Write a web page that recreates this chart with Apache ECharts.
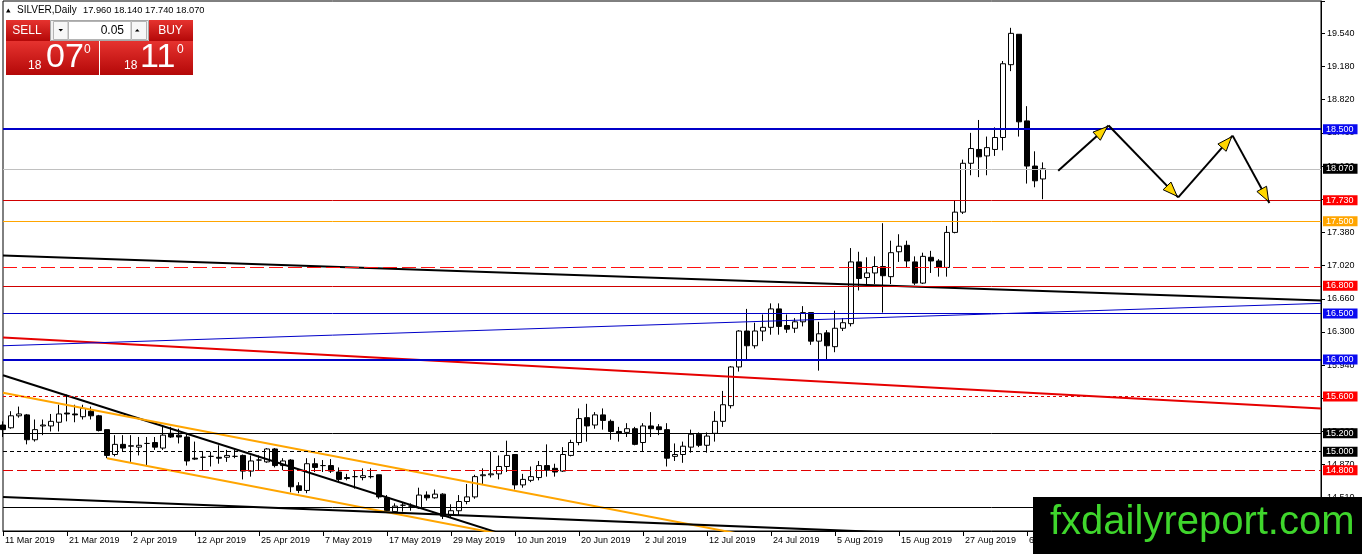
<!DOCTYPE html>
<html><head><meta charset="utf-8">
<script src="https://cdn.jsdelivr.net/npm/echarts@6/dist/echarts.min.js"></script>
<style>html,body{margin:0;padding:0;background:#fff;}#c{width:1362px;height:554px;}</style>
</head><body><div id="c"></div>
<script>
// ---------- DATA ----------
const dates = [
'11 Mar 2019','12 Mar 2019','13 Mar 2019','14 Mar 2019','15 Mar 2019','18 Mar 2019','19 Mar 2019','20 Mar 2019','21 Mar 2019','22 Mar 2019','25 Mar 2019','26 Mar 2019','27 Mar 2019','28 Mar 2019','29 Mar 2019',
'1 Apr 2019','2 Apr 2019','3 Apr 2019','4 Apr 2019','5 Apr 2019','8 Apr 2019','9 Apr 2019','10 Apr 2019','11 Apr 2019','12 Apr 2019','15 Apr 2019','16 Apr 2019','17 Apr 2019','18 Apr 2019','22 Apr 2019','23 Apr 2019','24 Apr 2019','25 Apr 2019','26 Apr 2019','29 Apr 2019','30 Apr 2019',
'1 May 2019','2 May 2019','3 May 2019','6 May 2019','7 May 2019','8 May 2019','9 May 2019','10 May 2019','13 May 2019','14 May 2019','15 May 2019','16 May 2019','17 May 2019','20 May 2019','21 May 2019','22 May 2019','23 May 2019','24 May 2019','27 May 2019','28 May 2019','29 May 2019','30 May 2019','31 May 2019',
'3 Jun 2019','4 Jun 2019','5 Jun 2019','6 Jun 2019','7 Jun 2019','10 Jun 2019','11 Jun 2019','12 Jun 2019','13 Jun 2019','14 Jun 2019','17 Jun 2019','18 Jun 2019','19 Jun 2019','20 Jun 2019','21 Jun 2019','24 Jun 2019','25 Jun 2019','26 Jun 2019','27 Jun 2019','28 Jun 2019',
'1 Jul 2019','2 Jul 2019','3 Jul 2019','4 Jul 2019','5 Jul 2019','8 Jul 2019','9 Jul 2019','10 Jul 2019','11 Jul 2019','12 Jul 2019','15 Jul 2019','16 Jul 2019','17 Jul 2019','18 Jul 2019','19 Jul 2019','22 Jul 2019','23 Jul 2019','24 Jul 2019','25 Jul 2019','26 Jul 2019','29 Jul 2019','30 Jul 2019','31 Jul 2019',
'1 Aug 2019','2 Aug 2019','5 Aug 2019','6 Aug 2019','7 Aug 2019','8 Aug 2019','9 Aug 2019','12 Aug 2019','13 Aug 2019','14 Aug 2019','15 Aug 2019','16 Aug 2019','19 Aug 2019','20 Aug 2019','21 Aug 2019','22 Aug 2019','23 Aug 2019','26 Aug 2019','27 Aug 2019','28 Aug 2019','29 Aug 2019','30 Aug 2019',
'2 Sep 2019','3 Sep 2019','4 Sep 2019','5 Sep 2019','6 Sep 2019','9 Sep 2019','10 Sep 2019'
];
const opens = [
15.29,15.26,15.39,15.40,15.13,15.28,15.28,15.32,15.42,15.41,
15.38,15.44,15.39,15.24,14.97,15.08,15.06,15.05,15.09,15.10,
15.04,15.20,15.18,15.16,14.93,14.94,14.95,14.94,14.94,14.95,
14.96,14.79,14.91,14.89,15.03,14.85,14.91,14.63,14.58,14.87,
14.85,14.85,14.78,14.72,14.73,14.72,14.73,14.75,14.50,14.35,
14.42,14.41,14.39,14.53,14.50,14.54,14.31,14.36,14.46,14.51,
14.74,14.75,14.76,14.84,14.97,14.64,14.69,14.72,14.85,14.82,
14.79,14.96,15.10,15.37,15.29,15.40,15.33,15.22,15.21,15.25,
15.10,15.28,15.27,15.24,14.95,14.97,15.05,15.19,15.07,15.20,
15.33,15.50,15.92,16.31,16.15,16.31,16.35,16.55,16.37,16.34,
16.41,16.51,16.20,16.29,16.14,16.34,16.39,17.06,16.89,16.94,
17.01,16.90,17.17,17.24,17.06,16.83,17.11,17.07,17.00,17.38,
17.60,18.13,18.28,18.21,18.28,18.41,19.20,19.53,18.59,18.10,
17.96];
const highs = [
15.33,15.44,15.49,15.41,15.35,15.35,15.41,15.51,15.62,15.51,
15.51,15.49,15.40,15.24,15.18,15.18,15.18,15.16,15.16,15.16,
15.27,15.27,15.25,15.20,15.11,15.00,15.00,15.07,15.02,15.02,
14.97,14.96,14.96,15.04,15.04,14.93,14.92,14.67,14.93,14.93,
14.91,14.92,14.83,14.76,14.79,14.82,14.82,14.75,14.53,14.44,
14.45,14.44,14.61,14.57,14.59,14.55,14.43,14.53,14.65,14.75,
14.82,15.00,14.96,15.12,14.97,14.76,14.84,14.90,15.08,14.87,
15.05,15.13,15.47,15.52,15.43,15.47,15.35,15.27,15.31,15.27,
15.31,15.43,15.30,15.31,15.09,15.11,15.24,15.21,15.21,15.44,
15.66,15.93,16.32,16.55,16.40,16.49,16.61,16.61,16.49,16.45,
16.58,16.51,16.41,16.32,16.53,16.45,17.21,17.17,17.11,17.12,
17.48,17.29,17.36,17.29,17.12,17.16,17.18,17.09,17.45,17.73,
18.17,18.46,18.60,18.42,18.52,19.24,19.60,19.53,18.75,18.26,
18.14];
const lows = [
15.16,15.25,15.37,15.08,15.11,15.18,15.22,15.22,15.33,15.32,
15.35,15.35,15.22,14.93,14.95,15.00,14.89,14.96,14.85,15.02,
15.02,15.15,15.09,14.85,14.91,14.80,14.84,14.87,14.89,14.93,
14.70,14.73,14.80,14.88,14.83,14.80,14.56,14.55,14.55,14.78,
14.78,14.77,14.68,14.69,14.60,14.69,14.71,14.49,14.35,14.33,
14.35,14.36,14.38,14.47,14.49,14.27,14.29,14.31,14.43,14.49,
14.65,14.72,14.70,14.78,14.59,14.61,14.67,14.69,14.73,14.73,
14.78,14.95,15.07,15.11,15.25,15.24,15.13,15.11,15.16,15.07,
15.00,15.16,15.18,14.84,14.90,14.88,14.99,15.05,14.99,15.11,
15.27,15.47,15.87,16.00,16.12,16.20,16.27,16.27,16.29,16.29,
16.36,16.16,15.88,16.00,16.08,16.31,16.36,16.75,16.82,16.82,
16.51,16.82,17.06,17.00,16.81,16.82,16.94,16.90,16.90,17.37,
17.58,18.00,17.98,18.00,18.21,18.27,19.13,18.42,17.91,17.87,
17.74];
const closes = [
15.24,15.39,15.41,15.13,15.24,15.29,15.33,15.41,15.41,15.40,
15.47,15.39,15.23,14.96,15.08,15.04,15.065,15.07,15.09,15.05,
15.18,15.16,15.16,14.90,14.92,14.94,14.95,14.93,14.96,14.95,
14.79,14.90,14.91,15.03,14.85,14.90,14.62,14.58,14.87,14.83,
14.85,14.79,14.70,14.71,14.73,14.74,14.73,14.51,14.36,14.41,
14.42,14.41,14.53,14.50,14.54,14.30,14.36,14.46,14.51,14.73,
14.75,14.76,14.84,14.96,14.64,14.70,14.73,14.85,14.80,14.78,
14.97,15.10,15.36,15.28,15.40,15.34,15.22,15.20,15.25,15.08,
15.28,15.25,15.24,14.93,14.97,15.06,15.19,15.07,15.17,15.33,
15.51,15.92,16.31,16.15,16.31,16.35,16.55,16.36,16.33,16.41,
16.51,16.20,16.28,16.15,16.34,16.40,17.06,16.88,16.94,17.01,
16.91,17.16,17.23,17.07,16.83,17.12,17.07,17.00,17.38,17.60,
18.13,18.29,18.20,18.30,18.41,19.21,19.54,18.58,18.10,17.94,
18.07];
const yTickLabels = ['','14.510','14.870','15.220','15.580','15.940','16.300','16.660','17.020','17.380','17.740','18.100','18.460','18.820','19.180','19.540'];
const levelPrices = [18.5, 18.07, 17.73, 17.5, 17.0, 16.8, 16.5, 16.0, 15.6, 15.2, 15.0, 14.8, 14.4];
const levelLabels = ['18.500','18.070','17.730','17.500','','16.800','16.500','16.000','15.600','15.200','15.000','14.800',''];
// trend lines: [barIndex, price] pairs
const longBlackLine  = [[0, 17.13], [164.75, 16.64]];
const longRedLine    = [[0, 16.24], [164.75, 15.47]];
const risingBlueLine = [[0, 16.15], [164.75, 16.61]];
const steepBlackLine = [[0, 15.83], [63, 14.09]];
const orangeUpper    = [[0, 15.64], [92, 14.11]];
const orangeLower    = [[13, 14.93], [62, 14.11]];
const bottomBlackLine= [[0, 14.51], [112, 14.12]];
// projected path arrows: [x1, p1, x2, p2]
const arrowSegments = [
  [131.9, 18.05, 138.2, 18.54],
  [138.2, 18.54, 146.9, 17.76],
  [146.9, 17.76, 153.7, 18.43],
  [153.7, 18.43, 158.3, 17.70]
];
const header = {symbol: 'SILVER,Daily', ohlc: '17.960 18.140 17.740 18.070'};
const quote = {lot: '0.05', bidBig: '18', bidMain: '07', bidSup: '0', askBig: '18', askMain: '11', askSup: '0'};

// ---------- STYLES ----------
const FONT = '"Liberation Sans", Arial, sans-serif';
const yMin = 14.14, yStep = 0.36, yMax = 19.891;
const xMax = 164.75;
const levelStyles = [
  {color:'#0000C8', width:2, type:'solid', bg:'#0A0AF0'},
  {color:'#C0C0C0', width:1, type:'solid', bg:'#000000'},
  {color:'#D00000', width:1, type:'solid', bg:'#FF0000'},
  {color:'#FFA500', width:1, type:'solid', bg:'#FFA500'},
  {color:'#FF1010', width:1, type:[14,5]},
  {color:'#D00000', width:1, type:'solid', bg:'#FF0000'},
  {color:'#0000C8', width:1, type:'solid', bg:'#0A0AF0'},
  {color:'#0000C8', width:2, type:'solid', bg:'#0A0AF0'},
  {color:'#E00000', width:1, type:[3,3], bg:'#FF0000'},
  {color:'#000000', width:1, type:'solid', bg:'#000000'},
  {color:'#000000', width:1, type:[4,3], bg:'#000000'},
  {color:'#E00000', width:1, type:[10,4], bg:'#FF0000'},
  {color:'#000000', width:1, type:'solid'}
];

const candleData = opens.map((o, i) => [i, o, closes[i], lows[i], highs[i]]);

function trend(data, color, width) {
  return {type:'line', data: data, showSymbol:false, symbol:'none', silent:true, animation:false,
    clip:true, z:3, lineStyle:{color:color, width:width}};
}

const red = {type:'linear', x:0, y:0, x2:0, y2:1, colorStops:[{offset:0,color:'#E6332F'},{offset:1,color:'#B40808'}]};
function txt(x, y, t, size, color, align) {
  return {type:'text', z:100, style:{x:x, y:y, text:t, fill:color, fontSize:size, fontFamily:FONT, align:align||'left', verticalAlign:'middle'}};
}

const chart = echarts.init(document.getElementById('c'), null, {renderer:'canvas'});
chart.setOption({
  animation:false,
  backgroundColor:'#fff',
  grid:{left:3, right:41, top:1, bottom:23, show:true, borderColor:'#000', borderWidth:1, containLabel:false, outerBoundsMode:'none'},
  xAxis:{type:'value', min:0, max:xMax, interval:8, position:'bottom',
    axisLine:{show:true, onZero:false, lineStyle:{color:'#000', width:1}},
    axisTick:{show:true, inside:false, length:5, lineStyle:{color:'#000'}},
    splitLine:{show:false},
    axisLabel:{show:true, fontSize:9, fontFamily:FONT, color:'#000', align:'left', margin:5, padding:[0,0,0,2],
      showMinLabel:true, showMaxLabel:true,
      formatter:function(v){ return (Number.isInteger(v) && v % 8 === 0) ? (dates[v] || '') : ''; }}
  },
  yAxis:{type:'value', position:'right', min:yMin, max:yMax, interval:yStep, scale:true,
    axisLine:{show:true, onZero:false, lineStyle:{color:'#000', width:1}},
    axisTick:{show:true, inside:false, length:4, lineStyle:{color:'#000'}},
    splitLine:{show:false},
    axisLabel:{fontSize:9, fontFamily:FONT, color:'#000', margin:6,
      formatter:function(v){ const k = Math.round((v - yMin)/yStep); return Math.abs(yMin + k*yStep - v) < 1e-6 ? (yTickLabels[k] || '') : ''; }}
  },
  series:[
    {type:'candlestick', data:candleData, barWidth:5, z:2, silent:true, animation:false, clip:true,
      encode:{x:0, y:[1,2,3,4]},
      itemStyle:{color:'#FFFFFF', color0:'#000000', borderColor:'#000000', borderColor0:'#000000', borderColorDoji:'#000000', borderWidth:1},
      markLine:{silent:true, symbol:['none','none'], animation:false, z:5,
        data: levelPrices.map((p, i) => {
          const s = levelStyles[i];
          return {yAxis:p, lineStyle:{color:s.color, width:s.width, type:s.type, opacity:1},
            label: levelLabels[i] ? {show:true, position:'end', distance:2, formatter:levelLabels[i], color:'#fff',
              fontSize:9, fontFamily:FONT, lineHeight:10, backgroundColor:s.bg, padding:[0,4,0,3]} : {show:false}};
        })
      }
    },
    trend(longBlackLine, '#000000', 2),
    trend(longRedLine, '#E60000', 2),
    trend(risingBlueLine, '#0000C8', 1),
    trend(steepBlackLine, '#000000', 2),
    trend(orangeUpper, '#FFA500', 2),
    trend(orangeLower, '#FFA500', 2),
    trend(bottomBlackLine, '#000000', 2),
    {type:'custom', data:arrowSegments, z:6, silent:true, animation:false, clip:true,
      encode:{x:[0,2], y:[1,3]},
      renderItem:function(params, api){
        const a = api.coord([api.value(0), api.value(1)]);
        const b = api.coord([api.value(2), api.value(3)]);
        const dx = b[0]-a[0], dy = b[1]-a[1], len = Math.hypot(dx, dy), ux = dx/len, uy = dy/len;
        const L = 16, H = 5.5;
        const bx = b[0]-ux*L, by = b[1]-uy*L;
        return {type:'group', children:[
          {type:'line', shape:{x1:a[0], y1:a[1], x2:b[0], y2:b[1]}, style:{stroke:'#000', lineWidth:2}},
          {type:'polygon', shape:{points:[[b[0]-ux*1.5, b[1]-uy*1.5], [bx-uy*H, by+ux*H], [bx+uy*H, by-ux*H]]},
            style:{fill:'#FFD700', stroke:'#000', lineWidth:1}}
        ]};
      }
    }
  ],
  graphic:[
    {type:'polygon', z:100, shape:{points:[[6,12.5],[10.5,12.5],[8.25,8.5]]}, style:{fill:'#000'}},
    txt(17, 10.5, header.symbol, 10, '#000'),
    txt(83, 10.5, header.ohlc, 9.3, '#000'),
    {type:'rect', z:100, shape:{x:6, y:20, width:44, height:21}, style:{fill:red}},
    txt(27, 31, 'SELL', 12, '#fff', 'center'),
    {type:'rect', z:100, shape:{x:50.5, y:20.5, width:98, height:20}, style:{fill:'#F0F0F0', stroke:'#A8A8A8', lineWidth:1}},
    {type:'rect', z:100, shape:{x:53.5, y:21.5, width:14.5, height:18}, style:{fill:'#F7F7F7', stroke:'#B4B4B4', lineWidth:1}},
    {type:'polygon', z:101, shape:{points:[[58.5,29],[63,29],[60.75,31.5]]}, style:{fill:'#000'}},
    {type:'rect', z:100, shape:{x:68.5, y:21.5, width:62.5, height:18}, style:{fill:'#fff', stroke:'#B4B4B4', lineWidth:1}},
    txt(124, 30.5, quote.lot, 12, '#000', 'right'),
    {type:'rect', z:100, shape:{x:131.5, y:21.5, width:15, height:18}, style:{fill:'#F7F7F7', stroke:'#B4B4B4', lineWidth:1}},
    {type:'polygon', z:101, shape:{points:[[135,31.5],[139.5,31.5],[137.25,29]]}, style:{fill:'#000'}},
    {type:'rect', z:100, shape:{x:149, y:20, width:44, height:21}, style:{fill:red}},
    txt(170.5, 31, 'BUY', 12, '#fff', 'center'),
    {type:'rect', z:100, shape:{x:6, y:41, width:93, height:34}, style:{fill:red}},
    {type:'rect', z:100, shape:{x:100, y:41, width:93, height:34}, style:{fill:red}},
    txt(28, 66, quote.bidBig, 12, '#fff'),
    txt(46, 58, quote.bidMain, 34, '#fff'),
    txt(84, 50, quote.bidSup, 12, '#fff'),
    txt(124, 66, quote.askBig, 12, '#fff'),
    txt(140, 58, quote.askMain, 34, '#fff'),
    txt(177, 50, quote.askSup, 12, '#fff'),
    {type:'rect', z:200, shape:{x:1033, y:497, width:329, height:57}, style:{fill:'#000'}},
    {type:'text', z:201, style:{x:1050, y:523, text:'fxdailyreport.com', fill:'#3FD62C', fontSize:40, fontFamily:FONT, verticalAlign:'middle'}}
  ]
});
</script>
</body></html>
